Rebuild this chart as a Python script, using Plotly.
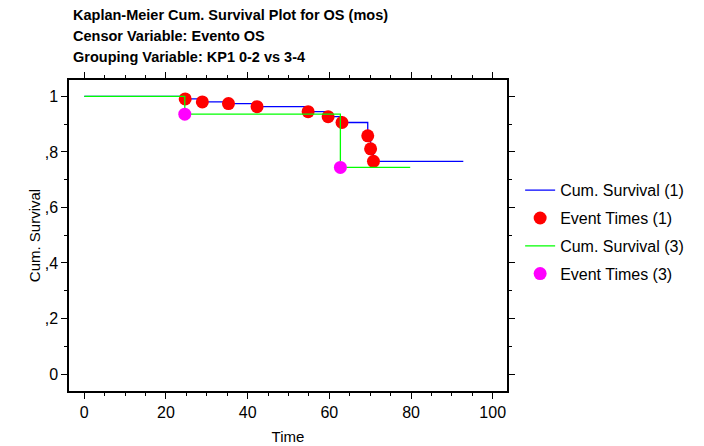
import plotly.graph_objects as go

# Kaplan-Meier estimates, group 1 (KP1 0-2)
g1_times = [0, 24.7, 28.9, 35.3, 42.3, 54.8, 59.7, 63.1, 69.4, 70.1, 70.8, 92.8]
g1_surv = [1.0, 0.991, 0.980, 0.974, 0.963, 0.945, 0.927, 0.906, 0.858, 0.811, 0.766, 0.766]
g1_event_times = [24.7, 28.9, 35.3, 42.3, 54.8, 59.7, 63.1, 69.4, 70.1, 70.8]
g1_event_surv = [0.991, 0.980, 0.974, 0.963, 0.945, 0.927, 0.906, 0.858, 0.811, 0.766]

# Kaplan-Meier estimates, group 3 (KP1 3-4)
g3_times = [0, 24.6, 62.7, 79.8]
g3_surv = [1.0, 0.936, 0.744, 0.744]
g3_event_times = [24.6, 62.7]
g3_event_surv = [0.936, 0.744]

y_tickvals = [0, 0.2, 0.4, 0.6, 0.8, 1.0]
y_ticktext = ["0", ",2", ",4", ",6", ",8", "1"]
x_tickvals = [0, 20, 40, 60, 80, 100]

title_lines = [
    "Kaplan-Meier Cum. Survival Plot for OS (mos)",
    "Censor Variable: Evento OS",
    "Grouping Variable: KP1 0-2 vs 3-4",
]

FONT = "Arial, Liberation Sans, sans-serif"

fig = go.Figure()
fig.add_trace(go.Scatter(
    x=g1_times, y=g1_surv, mode="lines", line=dict(color="#0000ff", width=1.3, shape="hv"),
    name="Cum. Survival (1)", legendgroup="a",
))
fig.add_trace(go.Scatter(
    x=g1_event_times, y=g1_event_surv, mode="markers",
    marker=dict(color="#ff0000", size=13, line=dict(width=0)),
    name="Event Times (1)", legendgroup="b",
))
fig.add_trace(go.Scatter(
    x=g3_times, y=g3_surv, mode="lines", line=dict(color="#00ff00", width=1.3, shape="hv"),
    name="Cum. Survival (3)", legendgroup="c",
))
fig.add_trace(go.Scatter(
    x=g3_event_times, y=g3_event_surv, mode="markers",
    marker=dict(color="#ff00ff", size=13, line=dict(width=0)),
    name="Event Times (3)", legendgroup="d",
))

axis_common = dict(
    showline=True, linecolor="black", linewidth=1.5, mirror="allticks",
    ticks="outside", ticklen=6, tickwidth=1.2, tickcolor="black",
    showgrid=False, zeroline=False, automargin=False,
    tickfont=dict(family=FONT, size=16, color="black"),
)

fig.update_xaxes(
    range=[-3.75, 103.5], tickvals=x_tickvals,
    minor=dict(ticks="outside", dtick=5, tick0=0, ticklen=3, tickwidth=1.2, tickcolor="black"),
    title=dict(text="Time", font=dict(family=FONT, size=15, color="black"), standoff=12),
    **axis_common,
)
fig.update_yaxes(
    range=[-0.061, 1.059], tickvals=y_tickvals, ticktext=y_ticktext,
    minor=dict(ticks="outside", dtick=0.1, tick0=0, ticklen=3, tickwidth=1.2, tickcolor="black"),
    title=dict(text="Cum. Survival", font=dict(family=FONT, size=15, color="black"), standoff=0),
    **axis_common,
)

for i, line in enumerate(title_lines):
    fig.add_annotation(
        text="<b>" + line + "</b>", xref="paper", yref="paper",
        x=(71 - 69) / 438, y=1 + (80 - 5 - 21 * i) / 311,
        xanchor="left", yanchor="top", showarrow=False,
        font=dict(family=FONT, size=14.5, color="black"),
    )

fig.update_layout(
    width=704, height=446,
    margin=dict(l=69, r=197, t=80, b=55),
    paper_bgcolor="white", plot_bgcolor="white",
    showlegend=True,
    legend=dict(
        x=1.03, y=0.70, xanchor="left", yanchor="top",
        font=dict(family=FONT, size=16, color="black"),
        tracegroupgap=4, bgcolor="rgba(0,0,0,0)",
    ),
)

fig.write_html("out.html")
